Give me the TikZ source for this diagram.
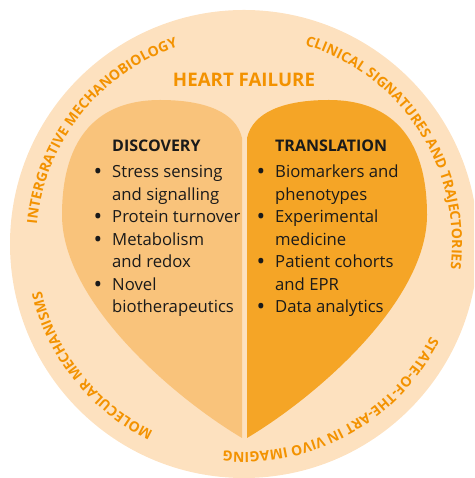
\documentclass[tikz,border=0pt]{standalone}
\usepackage{fontspec}
\setmainfont{Open Sans}
\usetikzlibrary{decorations.text}
\definecolor{peach}{HTML}{FDE1BF}
\definecolor{lightorange}{HTML}{F9C37B}
\definecolor{darkorange}{HTML}{F5A526}
\definecolor{textorange}{HTML}{F39200}
\definecolor{bodyblack}{HTML}{1A1A1A}
\newcommand\arcfont{\fontsize{14}{14}\selectfont\bfseries\color{textorange}}
\newcommand\bul{\llap{\raisebox{-1.6pt}{\fontsize{23}{23}\selectfont\textbullet}\hspace{10pt}}}
\tikzset{
  line/.style={anchor=base west, inner sep=0pt, text=bodyblack, font=\fontsize{16.7}{20}\selectfont},
  head/.style={anchor=base west, inner sep=0pt, text=bodyblack, font=\fontsize{16}{20}\selectfont\bfseries},
  arctext/.style={decorate, decoration={text along path, text align=center, text={#1}}}
}
\begin{document}
\begin{tikzpicture}[x=1pt,y=1pt]
\useasboundingbox (0,0) rectangle (474,478);
\clip (0,0) rectangle (474,478);
\fill[peach] (244,234) circle[radius=234pt];
% heart halves
\fill[lightorange] (242,340) .. controls (236,366) and (205,378) .. (160,378)
  .. controls (100,378) and (62,343) .. (62,263)
  .. controls (62,178) and (170,83) .. (242,40) -- cycle;
\fill[darkorange] (247,340) .. controls (253,366) and (284,378) .. (329,378)
  .. controls (389,378) and (427,343) .. (427,263)
  .. controls (427,178) and (319,83) .. (247,40) -- cycle;
% title
\node[anchor=base, inner sep=0pt, text=textorange, font=\fontsize{18.7}{20}\selectfont\bfseries] (title) at (244,391) {HEART FAILURE};
% arc texts
\path[arctext={|\arcfont|INTERGRATIVE MECHANOBIOLOGY}] (244,234) ++(186.5:208pt) arc[start angle=186.5, end angle=96.5, radius=208pt];
\path[arctext={|\arcfont|CLINICAL SIGNATURES AND TRAJECTORIES}] (244,234) ++(83:208pt) arc[start angle=83, end angle=-17, radius=208pt];
\path[arctext={|\arcfont|STATE-OF-THE-ART IN VIVO IMAGING}] (244,234) ++(-16:208pt) arc[start angle=-16, end angle=-106, radius=208pt];
\path[arctext={|\arcfont|MOLECULAR MECHANISMS}] (244,234) ++(258.7:208pt) arc[start angle=258.7, end angle=178.7, radius=208pt];
% discovery
\node[head] (dh) at (112,326) {DISCOVERY};
\node[line] (d0) at (112,300) {\bul Stress sensing};
\node[line] (d1) at (112,277.5) {and signalling};
\node[line] (d2) at (112,255) {\bul Protein turnover};
\node[line] (d3) at (112,232.5) {\bul Metabolism};
\node[line] (d4) at (112,210) {and redox};
\node[line] (d5) at (112,187.5) {\bul Novel};
\node[line] (d6) at (112,165) {biotherapeutics};
% translation
\node[head] (th) at (275,326) {TRANSLATION};
\node[line] (t0) at (275,300) {\bul Biomarkers and};
\node[line] (t1) at (275,277.5) {phenotypes};
\node[line] (t2) at (275,255) {\bul Experimental};
\node[line] (t3) at (275,232.5) {medicine};
\node[line] (t4) at (275,210) {\bul Patient cohorts};
\node[line] (t5) at (275,187.5) {and EPR};
\node[line] (t6) at (275,165) {\bul Data analytics};
\end{tikzpicture}
\end{document}
